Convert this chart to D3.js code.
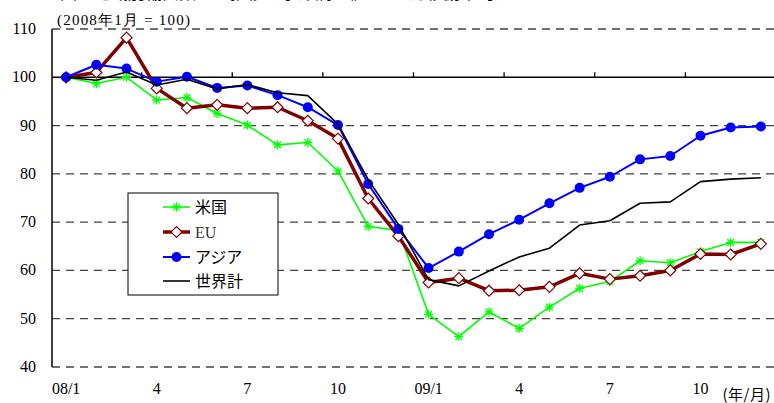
<!DOCTYPE html>
<html><head><meta charset="utf-8">
<script src="https://cdn.jsdelivr.net/npm/d3@7"></script>
<style>
body{margin:0;background:#fff;}
svg{display:block;}
</style></head>
<body>
<svg id="c" width="774" height="403"></svg>
<script>
const categories = ["08/1","08/2","08/3","08/4","08/5","08/6","08/7","08/8","08/9","08/10","08/11","08/12",
                    "09/1","09/2","09/3","09/4","09/5","09/6","09/7","09/8","09/9","09/10","09/11","09/12"];
const tickLabels = ["08/1","4","7","10","09/1","4","7","10"];
const yTicks = [40,50,60,70,80,90,100,110];
const seriesNames = ["米国","EU","アジア","世界計"];
const usa   = [100,98.7,100,95.3,95.8,92.5,90.1,86.0,86.5,80.6,69.1,68.3,50.9,46.3,51.4,48.0,52.4,56.3,57.7,62.0,61.6,63.9,65.8,65.8];
const eu    = [100,101.0,108.2,97.7,93.6,94.3,93.6,93.8,91.0,87.3,74.9,67.1,57.5,58.4,55.8,55.9,56.6,59.4,58.2,58.9,60.0,63.4,63.3,65.5];
const asia  = [100,102.6,101.8,99.1,100.1,97.8,98.3,96.3,93.8,90.1,77.9,68.6,60.5,63.9,67.5,70.5,73.9,77.1,79.4,83.0,83.7,87.9,89.6,89.8];
const world = [100,99.4,101.1,98.4,99.6,97.6,98.5,96.8,96.2,90.3,78.8,69.5,58.1,56.8,59.9,62.8,64.6,69.4,70.3,73.9,74.2,78.4,78.9,79.2];
const seriesValues = [usa, eu, asia, world];

const svg = d3.select("#c");
const x = d3.scaleBand().domain(categories).range([51, 776]).padding(0);
const cx = c => x(c) + x.bandwidth()/2;
const y = d3.scaleLinear().domain([40,110]).range([367,29]);

const serif = "'Liberation Serif','Times New Roman',serif";
const gothic = "'Noto Sans CJK JP','Noto Sans',sans-serif";

// title, cut off at the very top as in the reference
svg.append("text").attr("x", 60).attr("y", -1)
  .attr("font-family", gothic).attr("font-size", 17).attr("fill","#000")
  .text("図　地域別輸出数量の推移（季節調整値、3か月移動平均）");

// gridlines (dashed), excluding 100 which is the axis
svg.append("g").selectAll("line").data(yTicks.filter(v => v !== 100)).join("line")
  .attr("x1", 52).attr("x2", 774).attr("y1", d => y(d)).attr("y2", d => y(d))
  .attr("stroke", "#444").attr("stroke-width", 1.3).attr("stroke-dasharray", "8,6");

// y axis labels
svg.append("g").selectAll("text").data(yTicks).join("text")
  .attr("x", 36).attr("y", d => y(d) + 5)
  .attr("text-anchor","end").attr("font-family", serif).attr("font-size", 16)
  .text(d => d);

// y axis line
svg.append("line").attr("x1",52).attr("x2",52).attr("y1",y(110)).attr("y2",y(40))
  .attr("stroke","#000").attr("stroke-width",1.5);

// x axis at 100 with ticks at band boundaries every 3 months
svg.append("line").attr("x1",52).attr("x2",774).attr("y1",y(100)).attr("y2",y(100))
  .attr("stroke","#000").attr("stroke-width",1.5);
const tickIdx = d3.range(3, 24, 3);
svg.append("g").selectAll("line").data(tickIdx).join("line")
  .attr("x1", i => x(categories[i])).attr("x2", i => x(categories[i]))
  .attr("y1", y(100)).attr("y2", y(100) - 5)
  .attr("stroke","#000").attr("stroke-width",1.3);

// x tick labels at bottom
svg.append("g").selectAll("text").data(tickLabels).join("text")
  .attr("x", (d,i) => cx(categories[i*3]))
  .attr("y", 394).attr("text-anchor","middle")
  .attr("font-family", serif).attr("font-size", 16)
  .text(d => d);
svg.append("text").attr("x", 771).attr("y", 400).attr("text-anchor","end")
  .attr("font-family", gothic).attr("font-size", 15).attr("letter-spacing", 0.5).text("(年/月)");

// subtitle
svg.append("text").attr("x", 57).attr("y", 25)
  .attr("font-family", serif).attr("font-size", 15).attr("textLength", 133)
  .text("(2008年1月 = 100)");

// series styles
const styles = [
  {color:"#00FF00", width:1.6, marker:"star"},
  {color:"#800000", width:3.5, marker:"diamond"},
  {color:"#0000FF", width:2, marker:"circle"},
  {color:"#000000", width:1.6, marker:"none"}
];

function drawMarker(g, type, px, py, col){
  if (type === "star"){
    const r = 4.5;
    g.append("path")
      .attr("d", `M${px},${py-r}L${px},${py+r}M${px-r},${py}L${px+r},${py}M${px-r*0.75},${py-r*0.75}L${px+r*0.75},${py+r*0.75}M${px-r*0.75},${py+r*0.75}L${px+r*0.75},${py-r*0.75}`)
      .attr("stroke", col).attr("stroke-width", 1.3).attr("fill","none");
  } else if (type === "diamond"){
    const r = 5.5;
    g.append("path").attr("d", `M${px},${py-r}L${px+r},${py}L${px},${py+r}L${px-r},${py}Z`)
      .attr("fill","#fff").attr("stroke", col).attr("stroke-width", 1.2);
  } else if (type === "circle"){
    g.append("circle").attr("cx",px).attr("cy",py).attr("r",5).attr("fill",col);
  }
}

const line = d3.line().x((d,i) => cx(categories[i])).y(d => y(d));
seriesValues.forEach((vals, si) => {
  const st = styles[si];
  const g = svg.append("g");
  g.append("path").datum(vals).attr("d", line)
    .attr("fill","none").attr("stroke", st.color).attr("stroke-width", st.width)
    .attr("stroke-linejoin","round");
  vals.forEach((v,i) => drawMarker(g, st.marker, cx(categories[i]), y(v), st.color));
});

// legend
const lg = svg.append("g");
lg.append("rect").attr("x",128).attr("y",193).attr("width",150).attr("height",102)
  .attr("fill","#fff").attr("stroke","#000").attr("stroke-width",1);
const legY = [207, 232, 257, 281];
seriesNames.forEach((n, i) => {
  const st = styles[i];
  lg.append("line").attr("x1",163).attr("x2",190).attr("y1",legY[i]).attr("y2",legY[i])
    .attr("stroke", st.color).attr("stroke-width", st.width);
  drawMarker(lg, st.marker, 176.5, legY[i], st.color);
  lg.append("text").attr("x",195).attr("y",legY[i]+6)
    .attr("font-family", n === "EU" ? serif : gothic)
    .attr("font-size", 16)
    .attr("fill", n === "EU" ? "#333" : "#000")
    .text(n);
});
</script>
</body></html>
